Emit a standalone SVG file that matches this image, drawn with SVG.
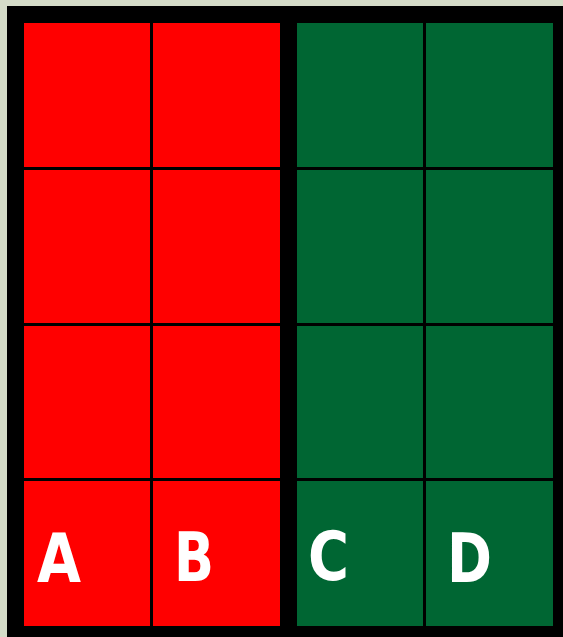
<svg xmlns="http://www.w3.org/2000/svg" width="563" height="637" viewBox="0 0 563 637">
<style>
.r{fill:#ff0000}
.g{fill:#006633}
.l{font-family:"Comic Sans MS","DejaVu Sans",sans-serif;font-weight:bold;font-size:68px;fill:#ffffff}
</style>
<rect width="563" height="637" fill="#d5dcc8"/>
<rect x="7" y="6" width="556" height="631" fill="#000000"/>
<g id="red">
<rect class="r" x="24" y="23" width="126" height="144"/>
<rect class="r" x="153" y="23" width="127" height="144"/>
<rect class="r" x="24" y="170" width="126" height="153"/>
<rect class="r" x="153" y="170" width="127" height="153"/>
<rect class="r" x="24" y="326" width="126" height="152"/>
<rect class="r" x="153" y="326" width="127" height="152"/>
<rect class="r" x="24" y="481" width="126" height="145"/>
<rect class="r" x="153" y="481" width="127" height="145"/>
</g>
<g id="green">
<rect class="g" x="297" y="23" width="126" height="144"/>
<rect class="g" x="426" y="23" width="127" height="144"/>
<rect class="g" x="297" y="170" width="126" height="153"/>
<rect class="g" x="426" y="170" width="127" height="153"/>
<rect class="g" x="297" y="326" width="126" height="152"/>
<rect class="g" x="426" y="326" width="127" height="152"/>
<rect class="g" x="297" y="481" width="126" height="145"/>
<rect class="g" x="426" y="481" width="127" height="145"/>
</g>
<g id="labels">
<text class="l" x="37" y="582" textLength="44" lengthAdjust="spacingAndGlyphs">A</text>
<text class="l" x="174" y="581" textLength="40" lengthAdjust="spacingAndGlyphs">B</text>
<text class="l" x="308" y="580" textLength="41" lengthAdjust="spacingAndGlyphs">C</text>
<text class="l" x="447" y="582" textLength="45" lengthAdjust="spacingAndGlyphs">D</text>
</g>
</svg>
